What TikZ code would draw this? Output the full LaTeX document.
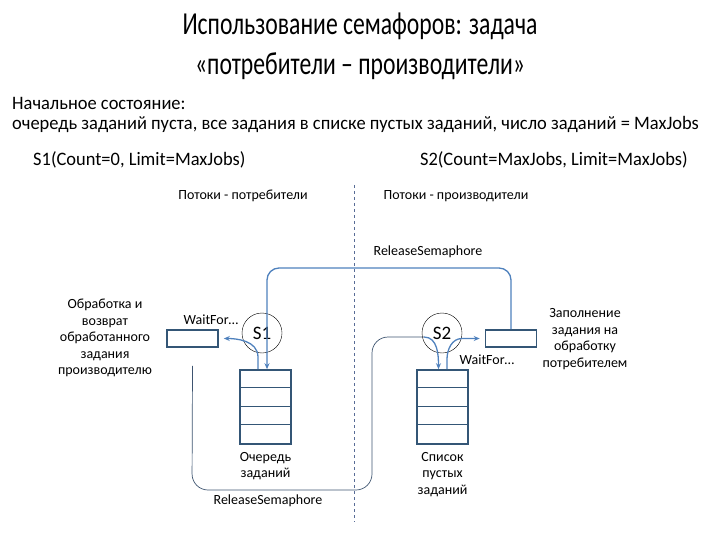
\documentclass[tikz,border=0pt]{standalone}
\usepackage{fontspec}
\setmainfont{Carlito}
\newfontfamily\titlefont[FakeStretch=0.74]{Carlito}
\newfontfamily\narrowfont[FakeStretch=0.97]{Carlito}
\usepackage{xcolor}
\usetikzlibrary{arrows.meta,positioning}

\definecolor{flowc}{RGB}{79,129,189}
\definecolor{boxc}{RGB}{52,86,118}
\definecolor{linec}{RGB}{62,84,112}
\definecolor{dashc}{RGB}{88,108,150}

\begin{document}
\begin{tikzpicture}[
  x=1pt, y=1pt,
  hdr/.style={font=\titlefont\fontsize{32}{40}\selectfont, align=center},
  txt/.style={font=\narrowfont\fontsize{19}{20}\selectfont, align=left, inner sep=0pt},
  lbl/.style={font=\fontsize{14}{16.5}\selectfont, align=center, inner sep=0pt},
  sem/.style={circle, draw, minimum size=40pt, inner sep=0pt,
              font=\fontsize{19}{20}\selectfont},
  slot/.style={draw=boxc, line width=1.6pt, minimum width=51pt,
               minimum height=17pt, inner sep=0pt},
  queue/.style={draw=boxc, line width=1.6pt, minimum width=51pt,
                minimum height=74pt, inner sep=0pt},
  flow/.style={draw=flowc, line width=1.3pt},
  back/.style={draw=linec, line width=0.7pt},
  >={Stealth[length=6pt,width=5pt]}
]
\useasboundingbox (0,0) rectangle (720,-540);

% title and initial state
\node[hdr] (title) at (360,-46) {Использование семафоров: задача\\«потребители – производители»};
\node[txt, anchor=north west] (init) at (12,-97)
  {Начальное состояние:\\очередь заданий пуста, все задания в списке пустых заданий, число заданий = MaxJobs};
\node[txt, anchor=west] (s1def) at (33,-160) {S1(Count=0, Limit=MaxJobs)};
\node[txt, anchor=east] (s2def) at (688,-160) {S2(Count=MaxJobs, Limit=MaxJobs)};

\node[lbl] (cons) at (243,-196) {Потоки - потребители};
\node[lbl] (prod) at (456,-196) {Потоки - производители};
\coordinate (divtop) at (354,-185);
\coordinate (divbot) at (354,-522);
\draw[dashc, dashed, line width=0.6pt] (divtop) -- (divbot);

% semaphores, slots and queues
\node[sem] (s1) at (262,-333) {S1};
\node[sem] (s2) at (442,-333) {S2};
\node[slot] (lr) at (192.5,-338.5) {};
\node[slot] (rr) at (511,-338.5) {};
\node[queue] (q1) at (265.5,-407) {};
\node[queue] (q2) at (442.5,-407) {};
\foreach \q in {q1,q2}
  \foreach \k in {1,2,3}
    \draw[boxc, line width=0.9pt] ([yshift=-\k*18.5pt]\q.north west) -- ([yshift=-\k*18.5pt]\q.north east);

\node[lbl] (lrtxt) at (105,-338) {Обработка и\\возврат\\обработанного\\задания\\производителю};
\node[lbl] (rrtxt) at (585,-339) {Заполнение\\задания на\\обработку\\потребителем};
\node[lbl, below=7pt of q1] (q1txt) {Очередь\\заданий};
\node[lbl, below=7pt of q2] (q2txt) {Список\\пустых\\заданий};

\node[lbl] (wait1) at (211,-320) {WaitFor…};
\node[lbl] (wait2) at (487,-360) {WaitFor…};
\node[lbl] (rel1) at (428,-252) {ReleaseSemaphore};
\node[lbl] (rel2) at (268,-501) {ReleaseSemaphore};

% producer releases S1
\coordinate (s1top) at (267,-268);
\draw[flow, ->, rounded corners=12pt] (rr.north) |- (s1top) -- (s1top |- q1.north);
% consumer waits on S1
\draw[flow, ->, shorten >=5pt] ([xshift=-7.5pt]q1.north) -- ++(0,12) to[out=90,in=0] (lr.east);

% consumer releases S2
\coordinate (s2in) at (424,-337);
\draw[back, rounded corners=16pt] ([yshift=-18pt]lr.south) -- (192,-490) -- (372,-490) -- (372,-337) -- (s2in);
\draw[flow, ->] (s2in) to[out=0,in=90] ([xshift=-4pt]q2.north);
% producer waits on S2
\draw[flow, ->, shorten >=5pt] ([xshift=4.5pt]q2.north) -- ++(0,10) to[out=90,in=180] (462,-338.5) -- (rr.west);
\end{tikzpicture}
\end{document}
